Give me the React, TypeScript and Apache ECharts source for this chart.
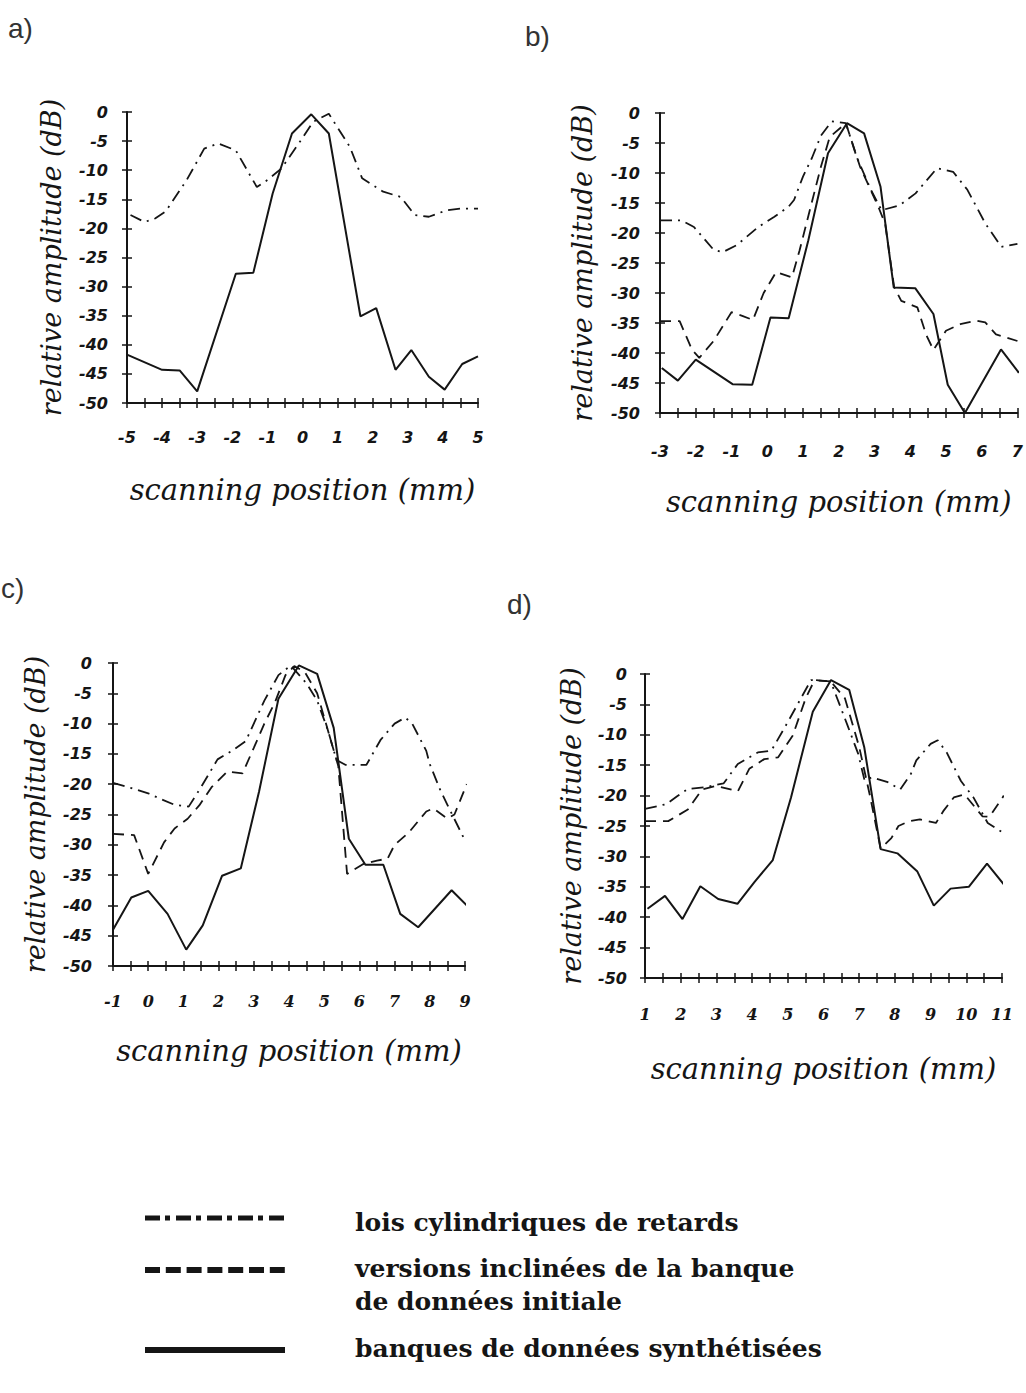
import React, { useEffect, useRef } from "react";
import * as echarts from "echarts";

// ---------- data ----------
const panelLabels = ["a)", "b)", "c)", "d)"];
const xMins = [-5, -3, -1, 1];
const xMaxs = [5, 7, 9, 11];
const yMin = -50;
const yMax = 0;
const yTitle = "relative amplitude (dB)";
const xTitle = "scanning position (mm)";
const legendLabels = [
  ["lois cylindriques de retards"],
  ["versions inclinées de la banque", "de données initiale"],
  ["banques de données synthétisées"],
];

// a)
const aCylindrical = [[-4.9,-17.7],[-4.5,-18.9],[-4.2,-18.3],[-3.9,-17.1],[-3.3,-11.7],[-2.8,-6.3],[-2.4,-5.4],[-1.9,-6.6],[-1.3,-12.9],[-1.0,-11.7],[-0.6,-9.7],[-0.05,-4.9],[0.3,-1.7],[0.75,-0.3],[1.35,-6],[1.7,-11.4],[2.3,-13.7],[2.8,-14.6],[3.2,-17.7],[3.6,-18],[4.1,-16.9],[4.5,-16.6],[5.0,-16.6]];
const aSynth = [[-5,-41.7],[-4,-44.3],[-3.5,-44.4],[-3,-48],[-1.9,-27.8],[-1.4,-27.6],[-0.85,-14],[-0.3,-3.7],[0.25,-0.4],[0.75,-3.7],[1.65,-35.1],[2.1,-33.7],[2.65,-44.3],[3.1,-40.9],[3.6,-45.5],[4.05,-47.7],[4.55,-43.3],[5,-42]];

// b)
const bCylindrical = [[-3,-17.9],[-2.4,-17.9],[-2.05,-19],[-1.5,-22.8],[-1.25,-23.2],[-0.85,-22],[-0.25,-19],[0.2,-17.3],[0.6,-15.6],[0.75,-14.5],[1.0,-10.6],[1.25,-7.5],[1.5,-3.8],[1.8,-1.4],[2.2,-1.7],[2.5,-7.3],[2.9,-12.8],[3.2,-16.2],[3.7,-15.4],[4.15,-13.4],[4.75,-9.2],[5.2,-9.8],[5.6,-12.8],[6.1,-18.4],[6.55,-22.3],[7.0,-21.8]];
const bInclined = [[-3,-34.7],[-2.45,-34.7],[-2.1,-39.5],[-1.9,-40.8],[-1.5,-38],[-1.0,-33.2],[-0.7,-33.8],[-0.4,-34.5],[-0.1,-30],[0.25,-26.5],[0.69,-27.4],[0.9,-23],[1.2,-16],[1.5,-9],[1.75,-4],[2.2,-1.7],[2.6,-9],[3.1,-15.5],[3.3,-18.5],[3.55,-29],[3.75,-31.3],[4.2,-32.4],[4.45,-37],[4.65,-39.5],[5.0,-36.3],[5.4,-35.2],[5.85,-34.6],[6.1,-34.9],[6.4,-36.9],[7.0,-38]];
const bSynth = [[-2.95,-42.5],[-2.5,-44.6],[-2.0,-41.1],[-0.97,-45.2],[-0.42,-45.3],[0.09,-34.1],[0.6,-34.2],[1.15,-21.2],[1.7,-6.7],[2.23,-1.7],[2.71,-3.4],[3.17,-12.3],[3.54,-29.1],[4.14,-29.2],[4.65,-33.5],[5.05,-45.3],[5.53,-50],[6.54,-39.4],[7.04,-43.3]];

// c)
const cCylindrical = [[-1,-19.8],[-0.5,-20.6],[0.0,-21.5],[0.3,-22.3],[0.75,-23.4],[1.15,-23.7],[1.5,-20.5],[1.97,-15.9],[2.35,-14.6],[2.77,-12.9],[3.3,-6.2],[3.7,-2],[4.05,-0.4],[4.5,-3.4],[4.8,-6.2],[5.1,-11],[5.35,-16],[5.6,-16.8],[6.2,-16.8],[6.6,-12.7],[7.0,-10],[7.3,-9],[7.5,-10],[7.9,-14.5],[8.0,-16.7],[8.3,-21],[8.5,-23.4],[9.0,-29.3]];
const cInclined = [[-1,-28.2],[-0.4,-28.4],[0.0,-34.8],[0.45,-29.6],[0.75,-27.3],[1.12,-25.7],[1.45,-23.5],[1.8,-20.5],[2.25,-17.9],[2.68,-18.2],[3.0,-14],[3.3,-10],[3.6,-6.5],[3.9,-2],[4.15,-0.5],[4.45,-1.5],[4.8,-5],[5.05,-10],[5.4,-17],[5.65,-34.8],[6.1,-33.2],[6.5,-32.6],[6.8,-32.3],[7.0,-30],[7.4,-28],[7.9,-24.5],[8.1,-24],[8.5,-25.7],[8.7,-25],[9.05,-20]];
const cSynth = [[-1,-44],[-0.48,-38.7],[0,-37.6],[0.55,-41.4],[1.08,-47.3],[1.55,-43.3],[2.1,-35.1],[2.63,-33.9],[3.15,-21.2],[3.7,-5.9],[4.28,-0.4],[4.8,-1.8],[5.27,-10.7],[5.7,-29],[6.17,-33.3],[6.68,-33.3],[7.16,-41.4],[7.67,-43.6],[8.62,-37.5],[9.05,-40]];

// d)
const dCylindrical = [[1.0,-22.2],[1.6,-21.4],[1.9,-20.1],[2.2,-18.9],[2.7,-18.6],[3.2,-18],[3.6,-14.8],[4.16,-12.9],[4.54,-12.6],[5.0,-7.9],[5.65,-1],[6.2,-1.2],[6.67,-8.4],[6.97,-13.1],[7.15,-17.5],[7.35,-17],[7.8,-17.8],[8.15,-19],[8.45,-16.4],[8.6,-14.2],[9.0,-11.5],[9.2,-10.9],[9.45,-12.9],[9.85,-17.6],[10.2,-20.3],[10.6,-24.5],[11.05,-26.2]];
const dInclined = [[1.0,-24.2],[1.65,-24.2],[2.2,-22.3],[2.6,-19],[3.0,-18.4],[3.6,-19.3],[3.92,-15.6],[4.34,-14],[4.73,-13.7],[5.14,-10.1],[5.5,-4],[5.75,-1],[6.2,-1.2],[6.6,-4],[7.0,-12],[7.3,-20],[7.6,-28.7],[7.9,-27],[8.1,-25],[8.4,-24.2],[8.7,-23.9],[9.15,-24.5],[9.35,-22.6],[9.65,-20.3],[9.95,-19.8],[10.45,-23.4],[10.65,-23.5],[11.05,-20]];
const dSynth = [[1.07,-38.6],[1.56,-36.5],[2.05,-40.3],[2.55,-34.9],[3.05,-37],[3.59,-37.8],[4.07,-34.2],[4.58,-30.6],[5.09,-20.3],[5.7,-6.2],[6.21,-1],[6.72,-2.6],[7.14,-12],[7.6,-28.8],[8.07,-29.5],[8.63,-32.5],[9.09,-38.1],[9.56,-35.3],[10.07,-35],[10.58,-31.2],[11.05,-34.6]];

const panelSeries = [
  { cyl: aCylindrical, inc: null, syn: aSynth },
  { cyl: bCylindrical, inc: bInclined, syn: bSynth },
  { cyl: cCylindrical, inc: cInclined, syn: cSynth },
  { cyl: dCylindrical, inc: dInclined, syn: dSynth },
];

// ---------- layout ----------
const grids = [
  { left: 127, top: 112, width: 351, height: 291 },
  { left: 660, top: 113, width: 358, height: 300 },
  { left: 113, top: 663, width: 352, height: 303 },
  { left: 645, top: 674, width: 357, height: 304 },
];
const yNameGaps = [62, 64, 64, 60];
const xNameGaps = [72, 74, 70, 76];
const xLabelMargins = [26, 30, 27, 28];
const yLabelMargins = [19, 20, 21, 18];
const letterPos = [[8, 28], [525, 36], [1, 588], [507, 604]];

const INK = "#151515";
const CYL_DASH = [12, 6, 2, 6];
const INC_DASH = [11, 7];

export default function App() {
  const ref = useRef<HTMLDivElement>(null);
  useEffect(() => {
    document.body.style.margin = "0";
    const chart = echarts.init(ref.current!, undefined, { renderer: "svg" });

    const xAxis: any[] = [];
    const yAxis: any[] = [];
    const series: any[] = [];
    const isInt = (v: number) => Math.abs(v - Math.round(v)) < 1e-6;
    const sansLab = { fontFamily: "DejaVu Sans", fontStyle: "italic", fontWeight: "bold", fontSize: 16, color: INK };
    const serifLab = { fontFamily: "DejaVu Serif", fontStyle: "italic", fontWeight: "bold", fontSize: 16, color: INK };

    for (let i = 0; i < 4; i++) {
      xAxis.push({
        type: "value", gridIndex: i, min: xMins[i], max: xMaxs[i], interval: 0.5,
        position: "bottom",
        axisLine: { show: true, onZero: false, lineStyle: { color: INK, width: 2 } },
        axisTick: { show: true, inside: false, length: 5, lineStyle: { color: INK, width: 1.5 } },
        axisLabel: { ...(i < 2 ? sansLab : serifLab), margin: xLabelMargins[i], formatter: (v: number) => (isInt(v) ? String(Math.round(v)) : "") },
        splitLine: { show: false },
        name: xTitle, nameLocation: "middle", nameGap: xNameGaps[i],
        nameTextStyle: { fontFamily: "DejaVu Serif", fontStyle: "italic", fontSize: 29, color: INK },
      });
      yAxis.push({
        type: "value", gridIndex: i, min: yMin, max: yMax, interval: 5,
        position: "left",
        axisLine: { show: true, onZero: false, lineStyle: { color: INK, width: 2 } },
        axisTick: { show: true, inside: false, length: 5, lineStyle: { color: INK, width: 1.5 } },
        axisLabel: { ...sansLab, margin: yLabelMargins[i] },
        splitLine: { show: false },
        name: yTitle, nameLocation: "middle", nameGap: yNameGaps[i],
        nameTextStyle: { fontFamily: "DejaVu Serif", fontStyle: "italic", fontSize: 27, color: INK },
      });
    }
    // inner ticks (cross-shaped tick marks)
    for (let i = 0; i < 4; i++) {
      xAxis.push({
        type: "value", gridIndex: i, min: xMins[i], max: xMaxs[i], interval: 0.5, position: "bottom",
        axisLine: { show: false, onZero: false }, axisLabel: { show: false }, splitLine: { show: false },
        axisTick: { show: true, inside: true, length: 5, lineStyle: { color: INK, width: 1.5 } },
      });
      yAxis.push({
        type: "value", gridIndex: i, min: yMin, max: yMax, interval: 5, position: "left",
        axisLine: { show: false, onZero: false }, axisLabel: { show: false }, splitLine: { show: false },
        axisTick: { show: true, inside: true, length: 5, lineStyle: { color: INK, width: 1.5 } },
      });
    }

    panelSeries.forEach((p, i) => {
      const base = { type: "line", xAxisIndex: i, yAxisIndex: i, symbol: "none", clip: false, silent: true };
      series.push({ ...base, name: legendLabels[0][0], data: p.cyl, lineStyle: { color: INK, width: 1.8, type: CYL_DASH } });
      if (p.inc) series.push({ ...base, name: legendLabels[1][0], data: p.inc, lineStyle: { color: INK, width: 1.8, type: INC_DASH } });
      series.push({ ...base, name: legendLabels[2][0], data: p.syn, lineStyle: { color: INK, width: 2, type: "solid" } });
    });

    const graphic: any[] = [];
    panelLabels.forEach((t, i) => {
      graphic.push({
        type: "text", x: letterPos[i][0], y: letterPos[i][1],
        style: { text: t, fontFamily: "Liberation Sans", fontSize: 28, fill: "#333", verticalAlign: "middle" },
      });
    });
    const lx1 = 145, lx2 = 285, tx = 355;
    graphic.push({ type: "line", shape: { x1: lx1, y1: 1218, x2: lx2, y2: 1218 }, style: { stroke: INK, lineWidth: 5, lineDash: [15, 5, 5, 6] } });
    graphic.push({ type: "line", shape: { x1: lx1, y1: 1270, x2: lx2, y2: 1270 }, style: { stroke: INK, lineWidth: 6, lineDash: [15, 5.8] } });
    graphic.push({ type: "line", shape: { x1: lx1, y1: 1350, x2: lx2, y2: 1350 }, style: { stroke: INK, lineWidth: 6 } });
    const legFont = { fontFamily: "DejaVu Serif", fontWeight: "bold", fontSize: 25, fill: INK, verticalAlign: "middle" };
    graphic.push({ type: "text", x: tx, y: 1222, style: { ...legFont, text: legendLabels[0][0] } });
    graphic.push({ type: "text", x: tx, y: 1268, style: { ...legFont, text: legendLabels[1][0] } });
    graphic.push({ type: "text", x: tx, y: 1301, style: { ...legFont, text: legendLabels[1][1] } });
    graphic.push({ type: "text", x: tx, y: 1348, style: { ...legFont, text: legendLabels[2][0] } });

    chart.setOption({
      animation: false,
      backgroundColor: "#ffffff",
      grid: grids.map((g) => ({ ...g, containLabel: false })),
      xAxis,
      yAxis,
      series,
      graphic,
    });
    return () => chart.dispose();
  }, []);
  return <div ref={ref} style={{ width: 1026, height: 1393 }} />;
}
